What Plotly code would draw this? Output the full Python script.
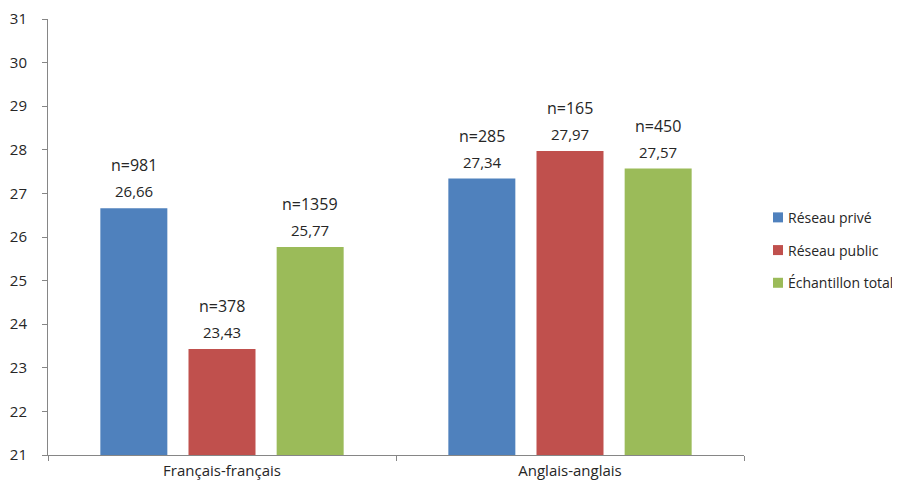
import plotly.graph_objects as go

categories = ["Français-français", "Anglais-anglais"]
series_names = ["Réseau privé", "Réseau public", "Échantillon total"]
colors = ["#4F81BD", "#C0504D", "#9BBB59"]
values_prive = [26.66, 27.34]
values_public = [23.43, 27.97]
values_total = [25.77, 27.57]
n_prive = [981, 285]
n_public = [378, 165]
n_total = [1359, 450]

series_values = [values_prive, values_public, values_total]
series_n = [n_prive, n_public, n_total]

fig = go.Figure()
for i, (name, vals) in enumerate(zip(series_names, series_values)):
    fig.add_trace(go.Bar(
        x=categories, y=vals, name=name,
        marker=dict(color=colors[i], line=dict(width=0)),
        showlegend=False,
    ))

# value labels above bars (bar slot width 88px within a group)
slot_px = 88
for i, (vals, ns) in enumerate(zip(series_values, series_n)):
    for j, cat in enumerate(categories):
        xs = (i - 1) * slot_px
        fig.add_annotation(x=cat, y=vals[j], xref="x", yref="y",
                           text=f"{vals[j]:.2f}".replace(".", ","),
                           showarrow=False, xshift=xs, yshift=17,
                           font=dict(size=15, color="#262626"))
        fig.add_annotation(x=cat, y=vals[j], xref="x", yref="y",
                           text=f"n={ns[j]}",
                           showarrow=False, xshift=xs, yshift=43,
                           font=dict(size=16, color="#262626"))

# legend (Excel-style: small square close to the text)
plot_w, plot_h = 696, 436
leg_x0, leg_x1, leg_tx = 725 / plot_w, 735 / plot_w, 738 / plot_w
leg_y = [0.545, 0.470, 0.395]
half_h = 5 / plot_h
for name, col, yy in zip(series_names, colors, leg_y):
    fig.add_shape(type="rect", xref="paper", yref="paper",
                  x0=leg_x0, x1=leg_x1, y0=yy - half_h, y1=yy + half_h,
                  fillcolor=col, line=dict(width=0))
    fig.add_annotation(xref="paper", yref="paper", x=leg_tx, y=yy,
                       xanchor="left", yanchor="middle", showarrow=False,
                       text=name, font=dict(size=14, color="#262626"))

fig.update_layout(
    width=884, height=472,
    margin=dict(l=40, r=148, t=11, b=25, autoexpand=False),
    paper_bgcolor="white", plot_bgcolor="white",
    font=dict(family="Open Sans", size=14, color="#262626"),
    barmode="group", bargap=0.24, bargroupgap=0.24,
    showlegend=False,
    xaxis=dict(showline=True, linecolor="#868686", linewidth=1,
               ticks="outside", tickson="boundaries", ticklen=5,
               tickcolor="#868686", showgrid=False, ticklabelstandoff=2,
               automargin=False,
               tickfont=dict(size=15, color="#262626")),
    yaxis=dict(range=[21, 31], dtick=1, showline=True, linecolor="#868686",
               linewidth=1, ticks="outside", ticklen=5, tickcolor="#868686",
               showgrid=False, zeroline=False, ticklabeloverflow="allow",
               ticklabelstandoff=12, automargin=False,
               tickfont=dict(size=15, color="#262626")),
)

fig.write_html("out.html")
